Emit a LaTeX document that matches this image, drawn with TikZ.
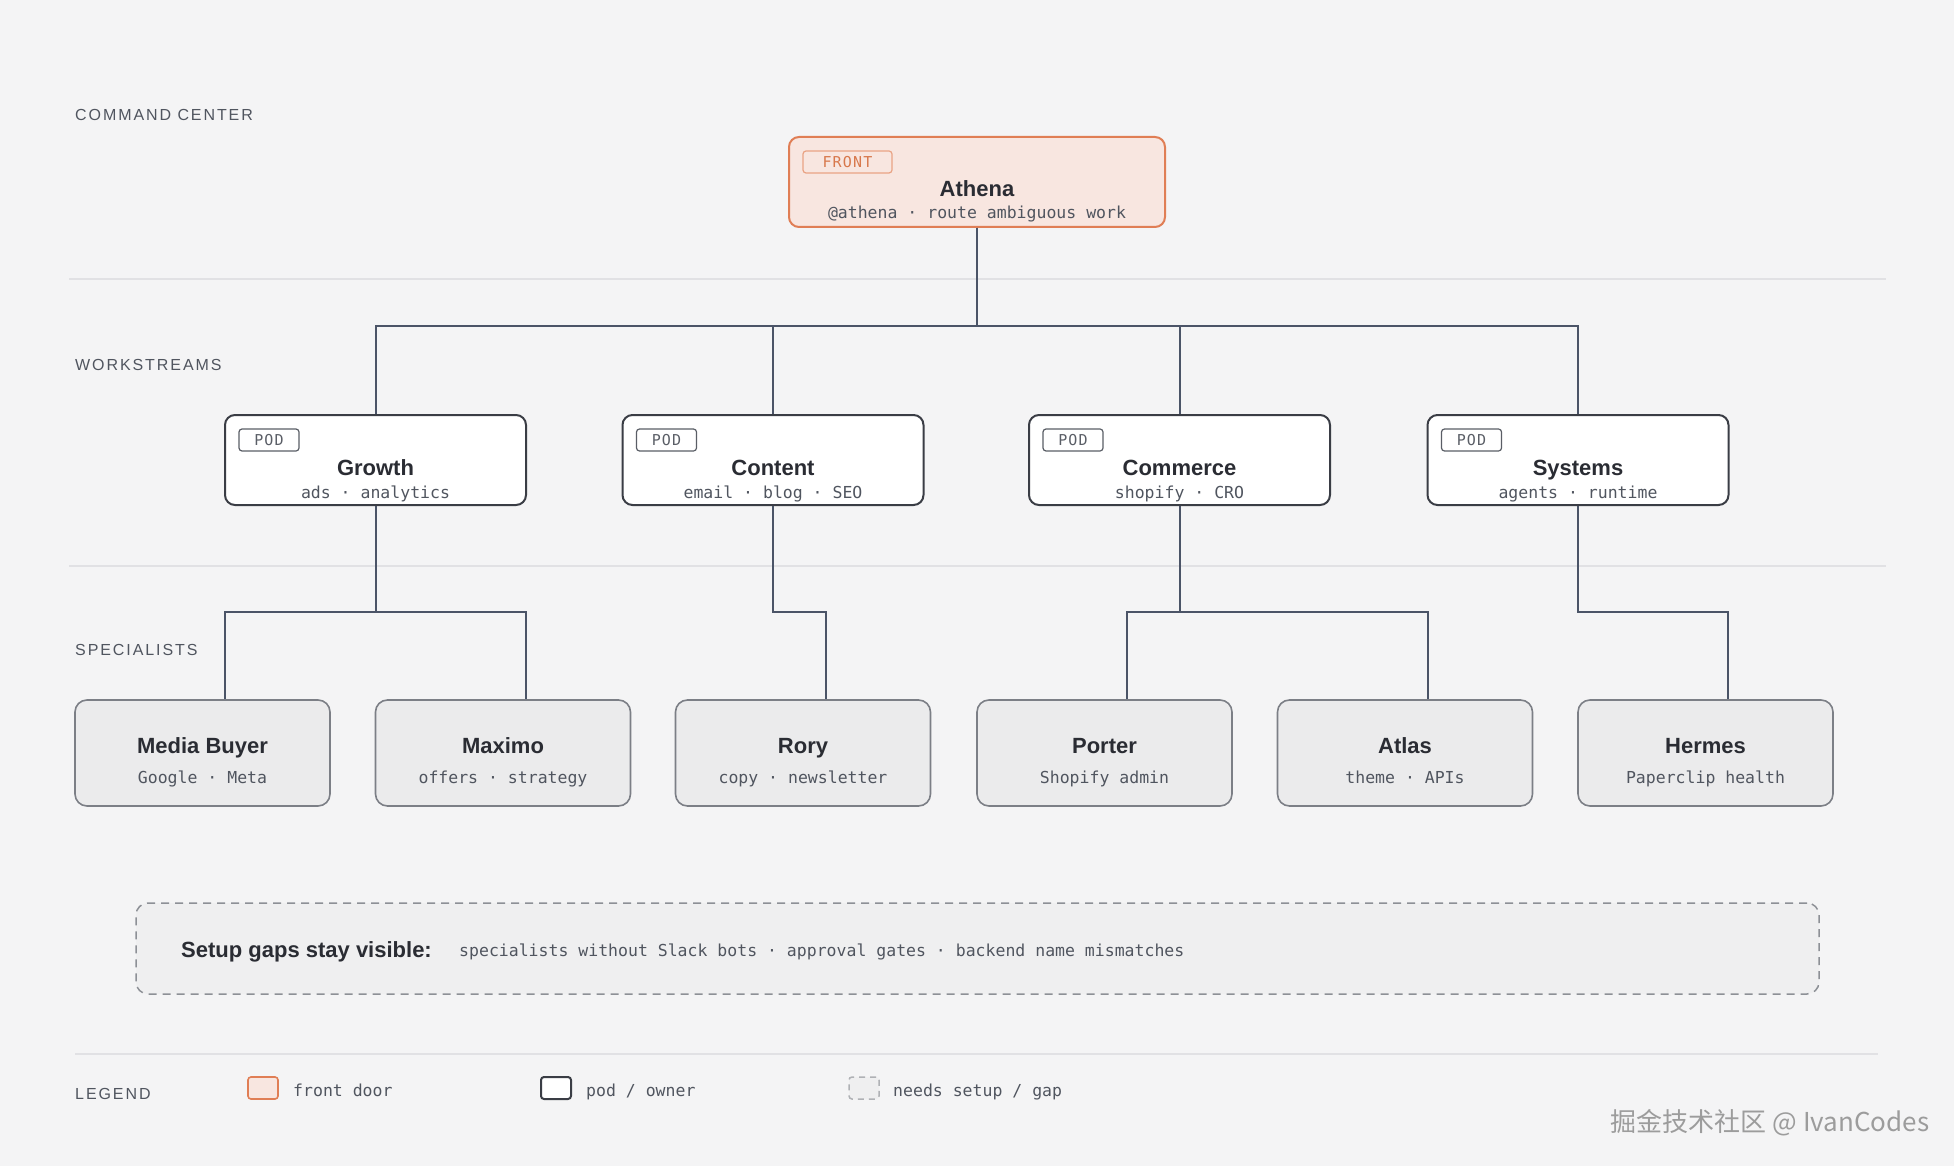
\documentclass[tikz,border=0pt]{standalone}
\usepackage{fontspec}
\setmainfont{Liberation Sans}
\setmonofont{DejaVu Sans Mono}
\newfontfamily\labelfont[LetterSpace=12]{Liberation Sans}
\newfontfamily\tagfont[LetterSpace=8]{DejaVu Sans Mono}
\newfontfamily\cjkfont{Noto Sans CJK SC}
\usepackage{xcolor}
\definecolor{pageBack}    {HTML}{F4F4F5}
\definecolor{ruleLine}    {HTML}{E1E1E4}
\definecolor{wireCol}     {HTML}{4B5467}
\definecolor{inkDark}     {HTML}{2A2C33}
\definecolor{inkMuted}    {HTML}{50555F}
\definecolor{frontBack}   {HTML}{F8E6E0}
\definecolor{frontEdge}   {HTML}{E07E55}
\definecolor{frontTag}    {HTML}{D8784C}
\definecolor{frontTagEdge}{HTML}{E9A384}
\definecolor{podEdge}     {HTML}{3A3D45}
\definecolor{tagEdge}     {HTML}{B5B7BC}
\definecolor{tagText}     {HTML}{5A5E66}
\definecolor{specBack}    {HTML}{EBEBEC}
\definecolor{specEdge}    {HTML}{7C7F86}
\definecolor{gapBack}     {HTML}{EFEFF0}
\definecolor{gapEdge}     {HTML}{8D9096}
\definecolor{markText}    {HTML}{9C9C9C}
\usetikzlibrary{positioning, calc}

\begin{document}
\begin{tikzpicture}[x=1pt, y=-1pt,
    every node/.style={inner sep=0pt},
    section/.style={anchor=base west, font=\labelfont\fontsize{16}{18}\selectfont, inkMuted},
    title/.style={anchor=base, font=\fontsize{22}{26}\selectfont\bfseries, inkDark},
    sub/.style={anchor=base, font=\ttfamily\fontsize{16.5}{20}\selectfont, inkMuted},
    frontbox/.style={draw=frontEdge, fill=frontBack, line width=2pt, rounded corners=10pt,
                 minimum width=376pt, minimum height=90pt},
    podbox/.style={draw=podEdge, fill=white, line width=2pt, rounded corners=10pt,
                 minimum width=301pt, minimum height=90pt},
    specbox/.style={draw=specEdge, fill=specBack, line width=1.6pt, rounded corners=12pt,
                 minimum width=255pt, minimum height=106pt},
    tagbox/.style={draw=tagEdge, line width=1.2pt, rounded corners=3pt,
                 minimum width=60pt, minimum height=22pt,
                 font=\tagfont\fontsize{15}{18}\selectfont, tagText},
    wire/.style={draw=wireCol, line width=2pt},
    rule/.style={draw=ruleLine, line width=1.6pt}
]
% Page and bands
\fill[pageBack] (0,0) rectangle (1954,1166);
\useasboundingbox (0,0) rectangle (1954,1166);
\draw[rule] (69,279) -- (1886,279);
\draw[rule] (69,566) -- (1886,566);
\draw[rule] (75,1054) -- (1878,1054);
\node[section] (lab-cmd)  at (75,121)  {COMMAND CENTER};
\node[section] (lab-work) at (75,370)  {WORKSTREAMS};
\node[section] (lab-spec) at (75,655)  {SPECIALISTS};
\node[section] (lab-leg)  at (75,1099) {LEGEND};

% Front door
\node[frontbox] (athena) at (977,182) {};
\node[tagbox, draw=frontTagEdge, minimum width=89pt, text=frontTag] (athena-tag)
    at ($(athena.north west)+(59.5,26)$) {FRONT};
\node[title] (athena-name) at (977,197) {Athena};
\node[sub] (athena-sub) at (977,219) {@athena · route ambiguous work};

% Pods
\foreach \n/\x/\t/\s in {growth/375.5/Growth/ads · analytics,
                         content/773/Content/email · blog · SEO,
                         commerce/1179.5/Commerce/shopify · CRO,
                         systems/1578/Systems/agents · runtime} {
    \node[podbox] (\n) at (\x,460) {};
    \node[tagbox] (\n-tag) at ($(\n.north west)+(45,26)$) {POD};
    \node[title] (\n-name) at (\x,475) {\t};
    \node[sub] (\n-sub) at (\x,498) {\s};
    \draw[wire] (athena.south) -- ++(0,98) -| (\n.north);
}

% Specialists
\foreach \n/\x/\t/\s in {media/202.5/Media Buyer/Google · Meta,
                         maximo/503/Maximo/offers · strategy,
                         rory/803/Rory/copy · newsletter,
                         porter/1104.5/Porter/Shopify admin,
                         atlas/1405/Atlas/theme · APIs,
                         hermes/1705.5/Hermes/Paperclip health} {
    \node[specbox] (\n) at (\x,753) {};
    \node[title] (\n-name) at (\x,753) {\t};
    \node[sub] (\n-sub) at (\x,783) {\s};
}
\foreach \p/\s in {growth/media, growth/maximo, content/rory,
                   commerce/porter, commerce/atlas, systems/hermes} {
    \draw[wire] (\p.south) -- ++(0,106) -| ($(\s.north west)+(151,0)$);
}

% Gaps note
\node[draw=gapEdge, fill=gapBack, line width=1.5pt, dash pattern=on 8pt off 6pt,
      rounded corners=12pt, minimum width=1683pt, minimum height=91pt]
    (gaps) at (977.5,948.5) {};
\node[anchor=base west, font=\fontsize{22}{26}\selectfont\bfseries, inkDark]
    (gaps-head) at (181,957) {Setup gaps stay visible:};
\node[anchor=base west, font=\ttfamily\fontsize{16.5}{20}\selectfont, inkMuted]
    (gaps-list) at (459,956)
    {specialists without Slack bots · approval gates · backend name mismatches};

% Legend
\node[draw=frontEdge, fill=frontBack, line width=1.6pt, rounded corners=3pt,
      minimum width=30pt, minimum height=22pt] (key-front) at (263,1088) {};
\node[draw=podEdge, fill=white, line width=2pt, rounded corners=3pt,
      minimum width=30pt, minimum height=22pt] (key-pod) at (556,1088) {};
\node[draw=gapEdge!70, fill=gapBack, line width=1.5pt, dash pattern=on 6pt off 5pt,
      rounded corners=3pt, minimum width=30pt, minimum height=22pt] (key-gap) at (864,1088) {};
\node[anchor=base west, font=\ttfamily\fontsize{16.5}{20}\selectfont, inkMuted]
    (key-front-t) at (293,1096) {front door};
\node[anchor=base west, font=\ttfamily\fontsize{16.5}{20}\selectfont, inkMuted]
    (key-pod-t) at (586,1096) {pod / owner};
\node[anchor=base west, font=\ttfamily\fontsize{16.5}{20}\selectfont, inkMuted]
    (key-gap-t) at (893,1096) {needs setup / gap};

% Watermark
\node[font=\cjkfont\fontsize{26}{30}\selectfont, markText] (mark) at (1770,1123)
    {掘金技术社区 @ IvanCodes};
\end{tikzpicture}
\end{document}
